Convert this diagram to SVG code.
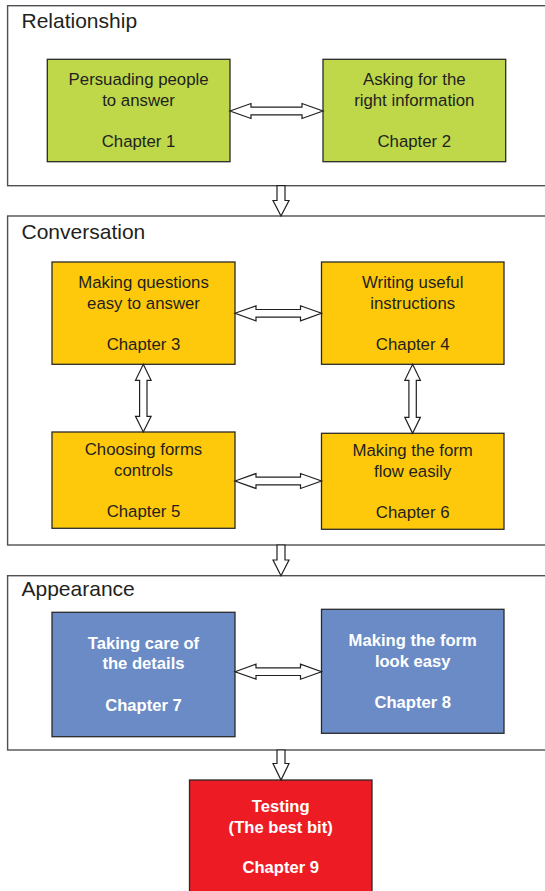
<svg xmlns="http://www.w3.org/2000/svg" width="545" height="891" viewBox="0 0 545 891">
<style>
.panel{fill:#fff;stroke:#505050;stroke-width:1.4}
.title{font-family:"Liberation Sans",Arial,sans-serif;font-size:21px;fill:#231f20}
.box{stroke:#2a2a2a;stroke-width:1.3}
.t{font-family:"Liberation Sans",Arial,sans-serif;font-size:16.8px;fill:#231f20;text-anchor:middle}
.tw{font-family:"Liberation Sans",Arial,sans-serif;font-size:16.6px;font-weight:bold;fill:#fff;text-anchor:middle}
.green{fill:#bed849}
.yellow{fill:#fec90b}
.blue{fill:#6b8bc6}
.red{fill:#ed1c24}
.arr{fill:#fff;stroke:#231f20;stroke-width:1.2;stroke-linejoin:miter}
</style>
<rect width="545" height="891" fill="#fff"/>
<g id="panel-relationship">
<rect class="panel" x="7.6" y="5.7" width="560" height="180"/>
<text class="title" x="21.5" y="27.5">Relationship</text>
</g>
<g id="panel-conversation">
<rect class="panel" x="7.6" y="216" width="560" height="329"/>
<text class="title" x="21.5" y="239">Conversation</text>
</g>
<g id="panel-appearance">
<rect class="panel" x="7.6" y="575.7" width="560" height="174.3"/>
<text class="title" x="21.5" y="596">Appearance</text>
</g>
<g id="ch1">
<rect class="box green" x="47.3" y="59.3" width="182.7" height="102.4"/>
<text class="t" x="138.6" y="85">Persuading people</text>
<text class="t" x="138.6" y="105.5">to answer</text>
<text class="t" x="138.6" y="147">Chapter 1</text>
</g>
<g id="ch2">
<rect class="box green" x="323" y="59.3" width="182.7" height="102.4"/>
<text class="t" x="414.3" y="85">Asking for the</text>
<text class="t" x="414.3" y="105.5">right information</text>
<text class="t" x="414.3" y="147">Chapter 2</text>
</g>
<g id="ch3">
<rect class="box yellow" x="52" y="262" width="183" height="102.3"/>
<text class="t" x="143.5" y="288.3">Making questions</text>
<text class="t" x="143.5" y="309.3">easy to answer</text>
<text class="t" x="143.5" y="350">Chapter 3</text>
</g>
<g id="ch4">
<rect class="box yellow" x="321.5" y="262" width="182.5" height="102.3"/>
<text class="t" x="412.7" y="288.3">Writing useful</text>
<text class="t" x="412.7" y="309.3">instructions</text>
<text class="t" x="412.7" y="350">Chapter 4</text>
</g>
<g id="ch5">
<rect class="box yellow" x="52" y="432" width="183" height="96.3"/>
<text class="t" x="143.5" y="455">Choosing forms</text>
<text class="t" x="143.5" y="475.7">controls</text>
<text class="t" x="143.5" y="516.7">Chapter 5</text>
</g>
<g id="ch6">
<rect class="box yellow" x="321.5" y="433.3" width="182.5" height="96"/>
<text class="t" x="412.7" y="456">Making the form</text>
<text class="t" x="412.7" y="477">flow easily</text>
<text class="t" x="412.7" y="518">Chapter 6</text>
</g>
<g id="ch7">
<rect class="box blue" x="52" y="612.3" width="183" height="124.4"/>
<text class="tw" x="143.5" y="649">Taking care of</text>
<text class="tw" x="143.5" y="669.3">the details</text>
<text class="tw" x="143.5" y="710.7">Chapter 7</text>
</g>
<g id="ch8">
<rect class="box blue" x="321.5" y="609.3" width="182.5" height="124"/>
<text class="tw" x="412.7" y="646">Making the form</text>
<text class="tw" x="412.7" y="666.7">look easy</text>
<text class="tw" x="412.7" y="707.7">Chapter 8</text>
</g>
<g id="ch9">
<rect class="box red" x="189.5" y="780" width="182.5" height="115"/>
<text class="tw" x="280.7" y="811.7">Testing</text>
<text class="tw" x="280.7" y="833.3">(The best bit)</text>
<text class="tw" x="280.7" y="872.7">Chapter 9</text>
</g>
<g id="connectors">
<path class="arr" d="M230 111 L251 103.5 L251 107.2 L302 107.2 L302 103.5 L323 111 L302 118.5 L302 114.8 L251 114.8 L251 118.5 Z"/>
<path class="arr" d="M235 313.3 L256 305.8 L256 309.5 L300.5 309.5 L300.5 305.8 L321.5 313.3 L300.5 320.8 L300.5 317.1 L256 317.1 L256 320.8 Z"/>
<path class="arr" d="M235 481 L256 473.5 L256 477.2 L300.5 477.2 L300.5 473.5 L321.5 481 L300.5 488.5 L300.5 484.8 L256 484.8 L256 488.5 Z"/>
<path class="arr" d="M235 671.7 L256 664.2 L256 667.9 L300.5 667.9 L300.5 664.2 L321.5 671.7 L300.5 679.2 L300.5 675.5 L256 675.5 L256 679.2 Z"/>
<path class="arr" d="M143.3 364.3 L151.1 380.3 L147 380.3 L147 416.3 L151.1 416.3 L143.3 432 L135.5 416.3 L139.6 416.3 L139.6 380.3 L135.5 380.3 Z"/>
<path class="arr" d="M412.6 364.3 L420.4 380.3 L416.3 380.3 L416.3 417.3 L420.4 417.3 L412.6 433.3 L404.8 417.3 L408.9 417.3 L408.9 380.3 L404.8 380.3 Z"/>
<path class="arr" d="M277 185.7 L285 185.7 L285 200.5 L289 200.5 L281 216 L273 200.5 L277 200.5 Z"/>
<path class="arr" d="M277 545 L285 545 L285 560 L289 560 L281 575.7 L273 560 L277 560 Z"/>
<path class="arr" d="M277 750 L285 750 L285 763.5 L289 763.5 L281 780 L273 763.5 L277 763.5 Z"/>
</g>
</svg>
